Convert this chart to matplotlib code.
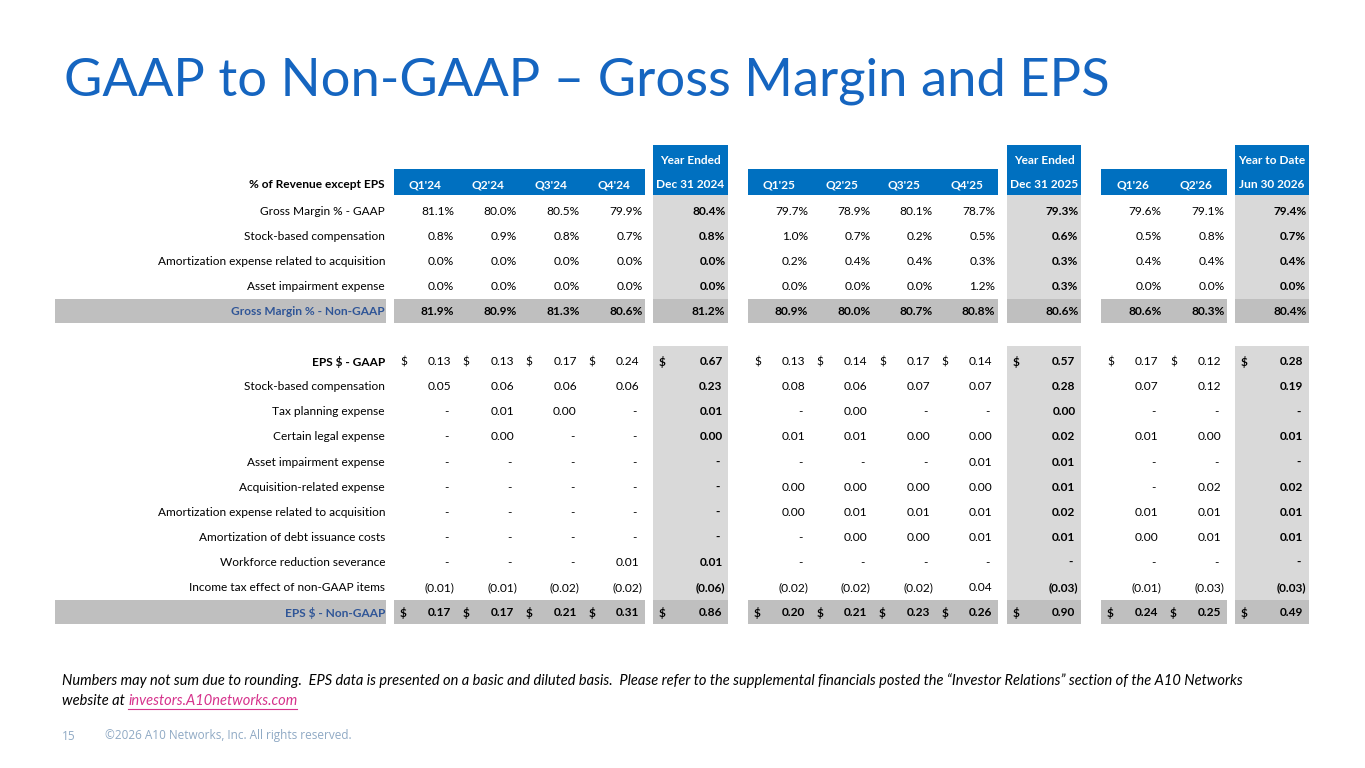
import matplotlib
matplotlib.use('Agg')
import matplotlib.pyplot as plt
from matplotlib.patches import Rectangle
from matplotlib import font_manager

# Data -----
periods = ["Q1'24", "Q2'24", "Q3'24", "Q4'24", "Dec 31 2024",
           "Q1'25", "Q2'25", "Q3'25", "Q4'25", "Dec 31 2025",
           "Q1'26", "Q2'26", "Jun 30 2026"]
period_tops = ['', '', '', '', 'Year Ended', '', '', '', '', 'Year Ended', '', '', 'Year to Date']
total_cols = [4, 9, 12]  # year / ytd columns (bold, shaded)

gm_labels = ['Gross Margin % - GAAP', 'Stock-based compensation',
             'Amortization expense related to acquisition', 'Asset impairment expense',
             'Gross Margin % - Non-GAAP']
gm_gaap = [81.1, 80.0, 80.5, 79.9, 80.4, 79.7, 78.9, 80.1, 78.7, 79.3, 79.6, 79.1, 79.4]
gm_sbc = [0.8, 0.9, 0.8, 0.7, 0.8, 1.0, 0.7, 0.2, 0.5, 0.6, 0.5, 0.8, 0.7]
gm_amort = [0.0, 0.0, 0.0, 0.0, 0.0, 0.2, 0.4, 0.4, 0.3, 0.3, 0.4, 0.4, 0.4]
gm_impair = [0.0, 0.0, 0.0, 0.0, 0.0, 0.0, 0.0, 0.0, 1.2, 0.3, 0.0, 0.0, 0.0]
gm_non_gaap = [81.9, 80.9, 81.3, 80.6, 81.2, 80.9, 80.0, 80.7, 80.8, 80.6, 80.6, 80.3, 80.4]

eps_labels = ['EPS $ - GAAP', 'Stock-based compensation', 'Tax planning expense',
              'Certain legal expense', 'Asset impairment expense', 'Acquisition-related expense',
              'Amortization expense related to acquisition', 'Amortization of debt issuance costs',
              'Workforce reduction severance', 'Income tax effect of non-GAAP items',
              'EPS $ - Non-GAAP']
N = None  # shown as "-"
eps_gaap = [0.13, 0.13, 0.17, 0.24, 0.67, 0.13, 0.14, 0.17, 0.14, 0.57, 0.17, 0.12, 0.28]
eps_sbc = [0.05, 0.06, 0.06, 0.06, 0.23, 0.08, 0.06, 0.07, 0.07, 0.28, 0.07, 0.12, 0.19]
eps_tax_plan = [N, 0.01, 0.00, N, 0.01, N, 0.00, N, N, 0.00, N, N, N]
eps_legal = [N, 0.00, N, N, 0.00, 0.01, 0.01, 0.00, 0.00, 0.02, 0.01, 0.00, 0.01]
eps_impair = [N, N, N, N, N, N, N, N, 0.01, 0.01, N, N, N]
eps_acq = [N, N, N, N, N, 0.00, 0.00, 0.00, 0.00, 0.01, N, 0.02, 0.02]
eps_amort = [N, N, N, N, N, 0.00, 0.01, 0.01, 0.01, 0.02, 0.01, 0.01, 0.01]
eps_debt = [N, N, N, N, N, N, 0.00, 0.00, 0.01, 0.01, 0.00, 0.01, 0.01]
eps_severance = [N, N, N, 0.01, 0.01, N, N, N, N, N, N, N, N]
eps_tax_effect = [-0.01, -0.01, -0.02, -0.02, -0.06, -0.02, -0.02, -0.02, 0.04, -0.03, -0.01, -0.03, -0.03]
eps_non_gaap = [0.17, 0.17, 0.21, 0.31, 0.86, 0.20, 0.21, 0.23, 0.26, 0.90, 0.24, 0.25, 0.49]

gm_rows = [gm_gaap, gm_sbc, gm_amort, gm_impair, gm_non_gaap]
eps_rows = [eps_gaap, eps_sbc, eps_tax_plan, eps_legal, eps_impair, eps_acq, eps_amort,
            eps_debt, eps_severance, eps_tax_effect, eps_non_gaap]

# Style -----
BLUE = '#0070C0'
TITLE_BLUE = '#1565C0'
LIGHT = '#D9D9D9'
DARK = '#BFBFBF'
NAVY = '#2F5597'
LINK = '#D6338C'
FOOT = '#8FA9C4'

installed = {f.name for f in font_manager.fontManager.ttflist}
TAB_FONT = 'Lato' if 'Lato' in installed else 'DejaVu Sans'
TITLE_FONT = TAB_FONT
FS = 8.6

# Column geometry (pixels) -----
groups = [(394, 251, 4), (653, 75, 1), (748, 250, 4), (1007, 74, 1), (1101, 126, 2), (1235, 74, 1)]
col_left, col_w = [], []
for g_left, g_width, n in groups:
    for k in range(n):
        col_left.append(g_left + g_width * k / n)
        col_w.append(g_width / n)
LABEL_L, LABEL_R = 55, 386
ROW_H = 25.1
gm_y = [211.5 + ROW_H * i for i in range(len(gm_rows))]
eps_y = [361.7 + ROW_H * i for i in range(len(eps_rows))]

fig = plt.figure(figsize=(13.65, 7.68), dpi=100)
ax = fig.add_axes([0, 0, 1, 1])
ax.set_xlim(0, 1365)
ax.set_ylim(768, 0)
ax.axis('off')
renderer = fig.canvas.get_renderer()


def fit_width(txt, target_px):
    # shrink/grow a text so that it spans about target_px
    w = txt.get_window_extent(renderer).width
    txt.set_fontsize(txt.get_fontsize() * target_px / w)


title = ax.text(64, 81, 'GAAP to Non-GAAP \u2013 Gross Margin and EPS', color=TITLE_BLUE,
                fontsize=40, family=TITLE_FONT, va='center', ha='left')
fit_width(title, 1046)

# Header -----
for g_left, g_width, n in groups:
    top = 145 if n == 1 else 169
    ax.add_patch(Rectangle((g_left, top), g_width, 195 - top, color=BLUE, lw=0))
for j, name in enumerate(periods):
    cx = col_left[j] + col_w[j] / 2
    ax.text(cx, 185, name, color='white', fontsize=FS, fontweight='bold', family=TAB_FONT,
            ha='center', va='center')
    if period_tops[j]:
        ax.text(cx, 160.5, period_tops[j], color='white', fontsize=FS, fontweight='bold',
                family=TAB_FONT, ha='center', va='center')
ax.text(LABEL_R - 1, 185, '% of Revenue except EPS', fontsize=FS, fontweight='bold',
        family=TAB_FONT, ha='right', va='center')

# Shading for the total columns -----
for j in total_cols:
    ax.add_patch(Rectangle((col_left[j], 195), col_w[j], gm_y[-1] - ROW_H / 2 - 195, color=LIGHT, lw=0))
    ax.add_patch(Rectangle((col_left[j], 346), col_w[j], eps_y[-1] - ROW_H / 2 - 346, color=LIGHT, lw=0))

# Non-GAAP total bands
for yc in (gm_y[-1], eps_y[-1]):
    y0 = yc - ROW_H / 2
    ax.add_patch(Rectangle((LABEL_L, y0), LABEL_R - LABEL_L, ROW_H - 1, color=DARK, lw=0))
    for g_left, g_width, n in groups:
        ax.add_patch(Rectangle((g_left, y0), g_width, ROW_H - 1, color=DARK, lw=0))


def draw_row(label, values, yc, kind, is_total):
    lab_color = NAVY if is_total else 'black'
    lab_bold = is_total or label == 'EPS $ - GAAP'
    ax.text(LABEL_R - 1, yc, label, color=lab_color, fontsize=FS, family=TAB_FONT,
            fontweight='bold' if lab_bold else 'normal', ha='right', va='center')
    for j, v in enumerate(values):
        bold = is_total or j in total_cols
        right = col_left[j] + col_w[j]
        if kind == 'pct':
            s, pad = f'{v:.1f}%', 2.5
        elif v is None:
            s, pad = '-', 8
        elif v < 0:
            s, pad = f'({abs(v):.2f})', 2.5
        else:
            s, pad = f'{v:.2f}', 5.5
        ax.text(right - pad, yc, s, fontsize=FS, family=TAB_FONT,
                fontweight='bold' if bold else 'normal', ha='right', va='center')
        if kind == 'eps' and label.startswith('EPS'):
            ax.text(col_left[j] + 6, yc, '$', fontsize=FS, family=TAB_FONT,
                    fontweight='bold' if bold else 'normal', ha='left', va='center')


for i, (lab, vals) in enumerate(zip(gm_labels, gm_rows)):
    draw_row(lab, vals, gm_y[i], 'pct', i == len(gm_rows) - 1)
for i, (lab, vals) in enumerate(zip(eps_labels, eps_rows)):
    draw_row(lab, vals, eps_y[i], 'eps', i == len(eps_rows) - 1)

# Footnote -----
note = ax.text(62, 681, 'Numbers may not sum due to rounding.  EPS data is presented on a basic and diluted basis.  '
               'Please refer to the supplemental financials posted the \u201cInvestor Relations\u201d section '
               'of the A10 Networks', fontsize=10, family=TAB_FONT, style='italic', ha='left', va='center')
fit_width(note, 1180)
NOTE_FS = note.get_fontsize()
t1 = ax.text(62, 701, 'website at ', fontsize=NOTE_FS, family=TAB_FONT, style='italic', ha='left', va='center')
x_link = ax.transData.inverted().transform((t1.get_window_extent(renderer).x1, 0))[0]
link = ax.text(x_link, 701, 'investors.A10networks.com', fontsize=NOTE_FS, family=TAB_FONT, style='italic',
               color=LINK, ha='left', va='center')
lb = link.get_window_extent(renderer)
x0, x1 = [ax.transData.inverted().transform((p, 0))[0] for p in (lb.x0, lb.x1)]
ax.plot([x0, x1], [708.5, 708.5], color=LINK, lw=0.8)

ax.text(62, 736, '15', fontsize=8.5, family='Open Sans', color=FOOT, ha='left', va='center')
ax.text(105, 736, '\u00a92026 A10 Networks, Inc. All rights reserved.', fontsize=8.5, family='Open Sans',
        color=FOOT, ha='left', va='center')

fig.savefig('out.png', dpi=100)
